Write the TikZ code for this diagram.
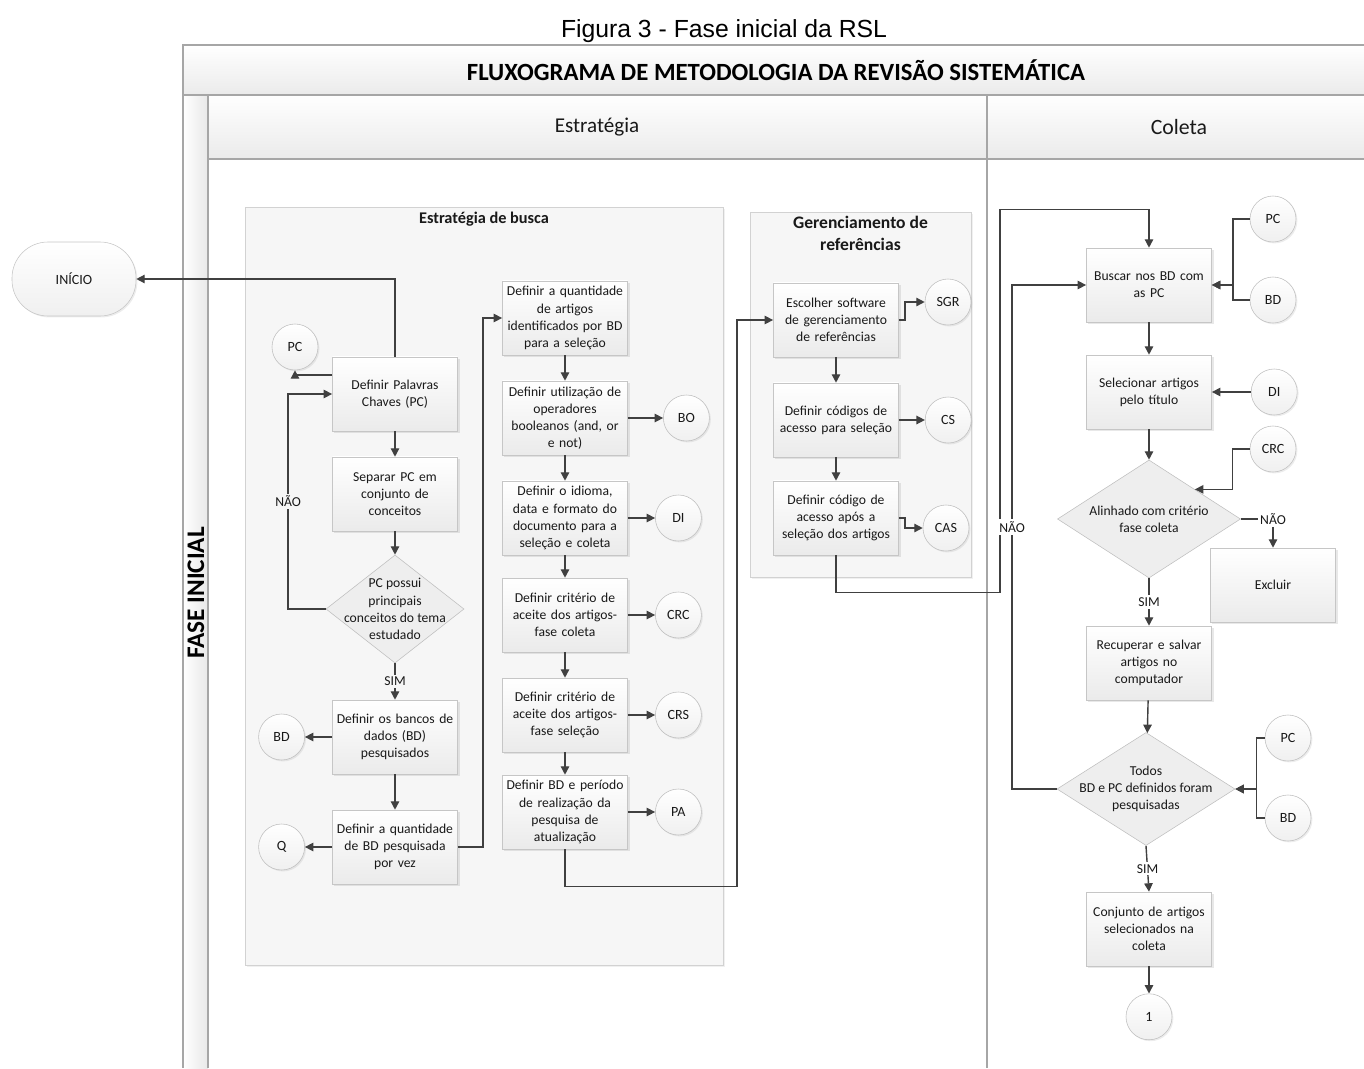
\documentclass[tikz,border=0pt]{standalone}
\usepackage{fontspec}
\setmainfont{Carlito}
\newfontfamily\captionfont{Liberation Sans}
\usetikzlibrary{arrows.meta,positioning,shapes.geometric,shadows}

\begin{document}
\begin{tikzpicture}[
    x=0.025cm, y=-0.025cm,
    every node/.style={font=\fontsize{9.7}{12.2}\selectfont, text=black!90},
    box/.style={draw=gray!45, top color=white, bottom color=gray!16, align=center, minimum width=3.125cm, minimum height=1.85cm, text width=3.06cm, inner sep=1pt, drop shadow={shadow xshift=1.5pt, shadow yshift=-1.5pt, opacity=0.18}},
    ref/.style={circle, draw=gray!50, top color=white, bottom color=gray!12, minimum size=1.15cm, inner sep=0pt, font=\fontsize{10}{12}\selectfont, drop shadow={shadow xshift=1pt, shadow yshift=-1pt, opacity=0.15}},
    decision/.style={diamond, draw=gray!50, fill=gray!13, inner sep=0pt},
    group/.style={draw=gray!35, fill=gray!7, drop shadow={shadow xshift=1.5pt, shadow yshift=-1.5pt, opacity=0.12}},
    lane/.style={draw=gray!70, line width=0.8pt},
    flow/.style={-{Triangle[length=6pt,width=6pt]}, line width=1pt, draw=black!75},
    link/.style={line width=1pt, draw=black!75},
    answer/.style={fill=white, inner sep=1.5pt}
]
\useasboundingbox (0,0) rectangle (1364,1068);

% pool and lanes
\shade[top color=white, bottom color=gray!16] (183,45) rectangle (1364,95);
\shade[top color=white, bottom color=gray!16] (208,95) rectangle (1364,159);
\shade[left color=white, right color=gray!18] (183,95) rectangle (208,1068);
\draw[lane] (1364,45) -- (183,45) -- (183,1068);
\draw[lane] (183,95) -- (1364,95);
\draw[lane] (208,95) -- (208,1068);
\draw[lane] (208,159) -- (1364,159);
\draw[lane] (987,95) -- (987,1068);
\node[font=\captionfont\fontsize{17.6}{20}\selectfont, text=black] (caption) at (724,31) {Figura 3 - Fase inicial da RSL};
\node[font=\bfseries\fontsize{17.6}{20}\selectfont, text=black] (pool) at (776,70) {FLUXOGRAMA DE METODOLOGIA DA REVISÃO SISTEMÁTICA};
\node[font=\fontsize{15}{18}\selectfont] (estrategia) at (597,127) {Estratégia};
\node[font=\fontsize{15.5}{18}\selectfont] (coleta) at (1179,127) {Coleta};
\node[rotate=90, font=\bfseries\fontsize{18}{20}\selectfont, text=black] (fase) at (196,593) {FASE INICIAL};

% groups
\node[group, minimum width=11.95cm, minimum height=18.95cm, label={[anchor=north, font=\bfseries\fontsize{11.6}{14}\selectfont]north:Estratégia de busca}] (busca) at (484,586) {};
\node[group, minimum width=5.525cm, minimum height=9.125cm, label={[anchor=north, align=center, font=\bfseries\fontsize{12.5}{15}\selectfont]north:Gerenciamento de\\referências}] (gerenc) at (860.5,394.5) {};

% start
\node[draw=gray!45, top color=white, bottom color=gray!12, rounded corners=0.9cm, minimum width=3.1cm, minimum height=1.85cm, font=\fontsize{10}{12}\selectfont, drop shadow={shadow xshift=1pt, shadow yshift=-1pt, opacity=0.15}] (inicio) at (74,279) {INÍCIO};

% estrategia de busca, first column
\node[ref] (pc1) at (295,347) {PC};
\node[box] (pal) at (395,394) {Definir Palavras\\Chaves (PC)};
\node[box] (sep) at (395,494) {Separar PC em\\conjunto de\\conceitos};
\node[decision, minimum width=3.45cm, minimum height=2.7cm, label={[align=center]center:PC possui\\principais\\conceitos do tema\\estudado}] (dec1) at (395,609) {};
\node[box] (bancos) at (395,737) {Definir os bancos de\\dados (BD)\\pesquisados};
\node[ref, left=0.68cm of bancos] (bd1) {BD};
\node[box] (qtdbd) at (395,847) {Definir a quantidade\\de BD pesquisada\\por vez};
\node[ref, left=0.68cm of qtdbd] (q1) {Q};

% estrategia de busca, second column
\node[box] (qtdart) at (565,318) {Definir a quantidade\\de artigos\\identificados por BD\\para a seleção};
\node[box] (oper) at (565,418) {Definir utilização de\\operadores\\booleanos (and, or\\e not)};
\node[ref, right=0.88cm of oper] (bo) {BO};
\node[box] (idioma) at (565,518) {Definir o idioma,\\data e formato do\\documento para a\\seleção e coleta};
\node[ref, right=0.68cm of idioma] (di1) {DI};
\node[box] (critcol) at (565,615) {Definir critério de\\aceite dos artigos-\\fase coleta};
\node[ref, right=0.68cm of critcol] (crc1) {CRC};
\node[box] (critsel) at (565,715) {Definir critério de\\aceite dos artigos-\\fase seleção};
\node[ref, right=0.68cm of critsel] (crs) {CRS};
\node[box] (atual) at (565,812) {Definir BD e período\\de realização da\\pesquisa de\\atualização};
\node[ref, right=0.68cm of atual] (pa) {PA};

% gerenciamento de referencias
\node[box] (soft) at (836,320) {Escolher software\\de gerenciamento\\de referências};
\node[ref] (sgr) at (948,302) {SGR};
\node[box] (acesso) at (836,420) {Definir códigos de\\acesso para seleção};
\node[ref, right=0.65cm of acesso] (cs) {CS};
\node[box] (apos) at (836,518) {Definir código de\\acesso após a\\seleção dos artigos};
\node[ref] (cas) at (946,528) {CAS};

% coleta
\node[box] (buscar) at (1149,285) {Buscar nos BD com\\as PC};
\node[ref] (pc2) at (1273,219) {PC};
\node[ref] (bd2) at (1273,300) {BD};
\node[box] (selec) at (1149,392) {Selecionar artigos\\pelo título};
\node[ref, right=0.975cm of selec] (di2) {DI};
\node[decision, minimum width=4.575cm, minimum height=2.95cm, label={[align=center]center:Alinhado com critério\\fase coleta}] (dec2) at (1149,519) {};
\node[ref] (crc2) at (1273,449) {CRC};
\node[box] (excluir) at (1273,585) {Excluir};
\node[box] (recup) at (1149,663) {Recuperar e salvar\\artigos no\\computador};
\node[decision, minimum width=4.45cm, minimum height=2.825cm, label={[align=center]center:Todos\\BD e PC definidos foram\\pesquisadas}] (dec3) at (1146,789) {};
\node[ref] (pc3) at (1288,738) {PC};
\node[ref] (bd3) at (1288,818) {BD};
\node[box] (conj) at (1149,929) {Conjunto de artigos\\selecionados na\\coleta};
\node[ref, below=0.68cm of conj] (um) {1};

% connectors, estrategia de busca
\draw[flow] (pal.north) |- (inicio.east);
\draw[flow] ([yshift=0.475cm]pal.west) -| (pc1.south);
\draw[flow] (pal) -- (sep);
\draw[flow] (sep) -- (dec1);
\draw[flow] (dec1.west) -| node[answer, fill=gray!7, pos=0.75] (nao1) {NÃO} ([xshift=-1.1cm]pal.west) -- (pal.west);
\draw[flow] (dec1.south) -- node[answer, fill=gray!7] (sim1) {SIM} (bancos.north);
\draw[flow] (bancos) -- (bd1);
\draw[flow] (bancos) -- (qtdbd);
\draw[flow] (qtdbd) -- (q1);
\draw[flow] (qtdbd.east) -| ([xshift=-0.475cm]qtdart.west) -- (qtdart.west);
\draw[flow] (qtdart) -- (oper);
\draw[flow] (oper) -- (idioma);
\draw[flow] (idioma) -- (critcol);
\draw[flow] (critcol) -- (critsel);
\draw[flow] (critsel) -- (atual);
\draw[flow] (oper) -- (bo);
\draw[flow] (idioma) -- (di1);
\draw[flow] (critcol) -- (crc1);
\draw[flow] (critsel) -- (crs);
\draw[flow] (atual) -- (pa);
\draw[flow] (atual.south) -- ++(0,37) -| ([xshift=-0.9cm]soft.west) -- (soft.west);

% connectors, gerenciamento
\draw[flow] (soft.east) -- ++(6,0) |- (sgr.west);
\draw[flow] (soft) -- (acesso);
\draw[flow] (acesso) -- (cs);
\draw[flow] (acesso) -- (apos);
\draw[flow] (apos.east) -- ++(6,0) |- (cas.west);
\draw[flow] (apos.south) -- ++(0,37) -- ++(164,0) |- ([yshift=0.95cm]buscar.north) -- (buscar.north);

% connectors, coleta
\draw[flow] (pc2.west) -| ([xshift=0.525cm]buscar.east) -- (buscar.east);
\draw[flow] (bd2.west) -| ([xshift=0.525cm]buscar.east) -- (buscar.east);
\draw[flow] (buscar) -- (selec);
\draw[flow] (di2) -- (selec);
\draw[flow] (selec) -- (dec2);
\draw[flow] (crc2.west) -| ([xshift=0.94cm]dec2.north east) -- (dec2.north east);
\draw[flow] (dec2.east) -| node[answer, pos=0.5] (nao2) {NÃO} (excluir.north);
\draw[flow] (dec2.south) -- node[answer] (sim2) {SIM} (recup.north);
\draw[flow] (recup) -- (dec3);
\draw[flow] (pc3.west) -| ([xshift=0.525cm]dec3.east) -- (dec3.east);
\draw[flow] (bd3.west) -| ([xshift=0.525cm]dec3.east) -- (dec3.east);
\draw[flow] (dec3.west) -| node[answer, pos=0.76] (nao3) {NÃO} ([xshift=-1.85cm]buscar.west) -- (buscar.west);
\draw[flow] (dec3.south) -- node[answer] (sim3) {SIM} (conj.north);
\draw[flow] (conj) -- (um);
\end{tikzpicture}
\end{document}
